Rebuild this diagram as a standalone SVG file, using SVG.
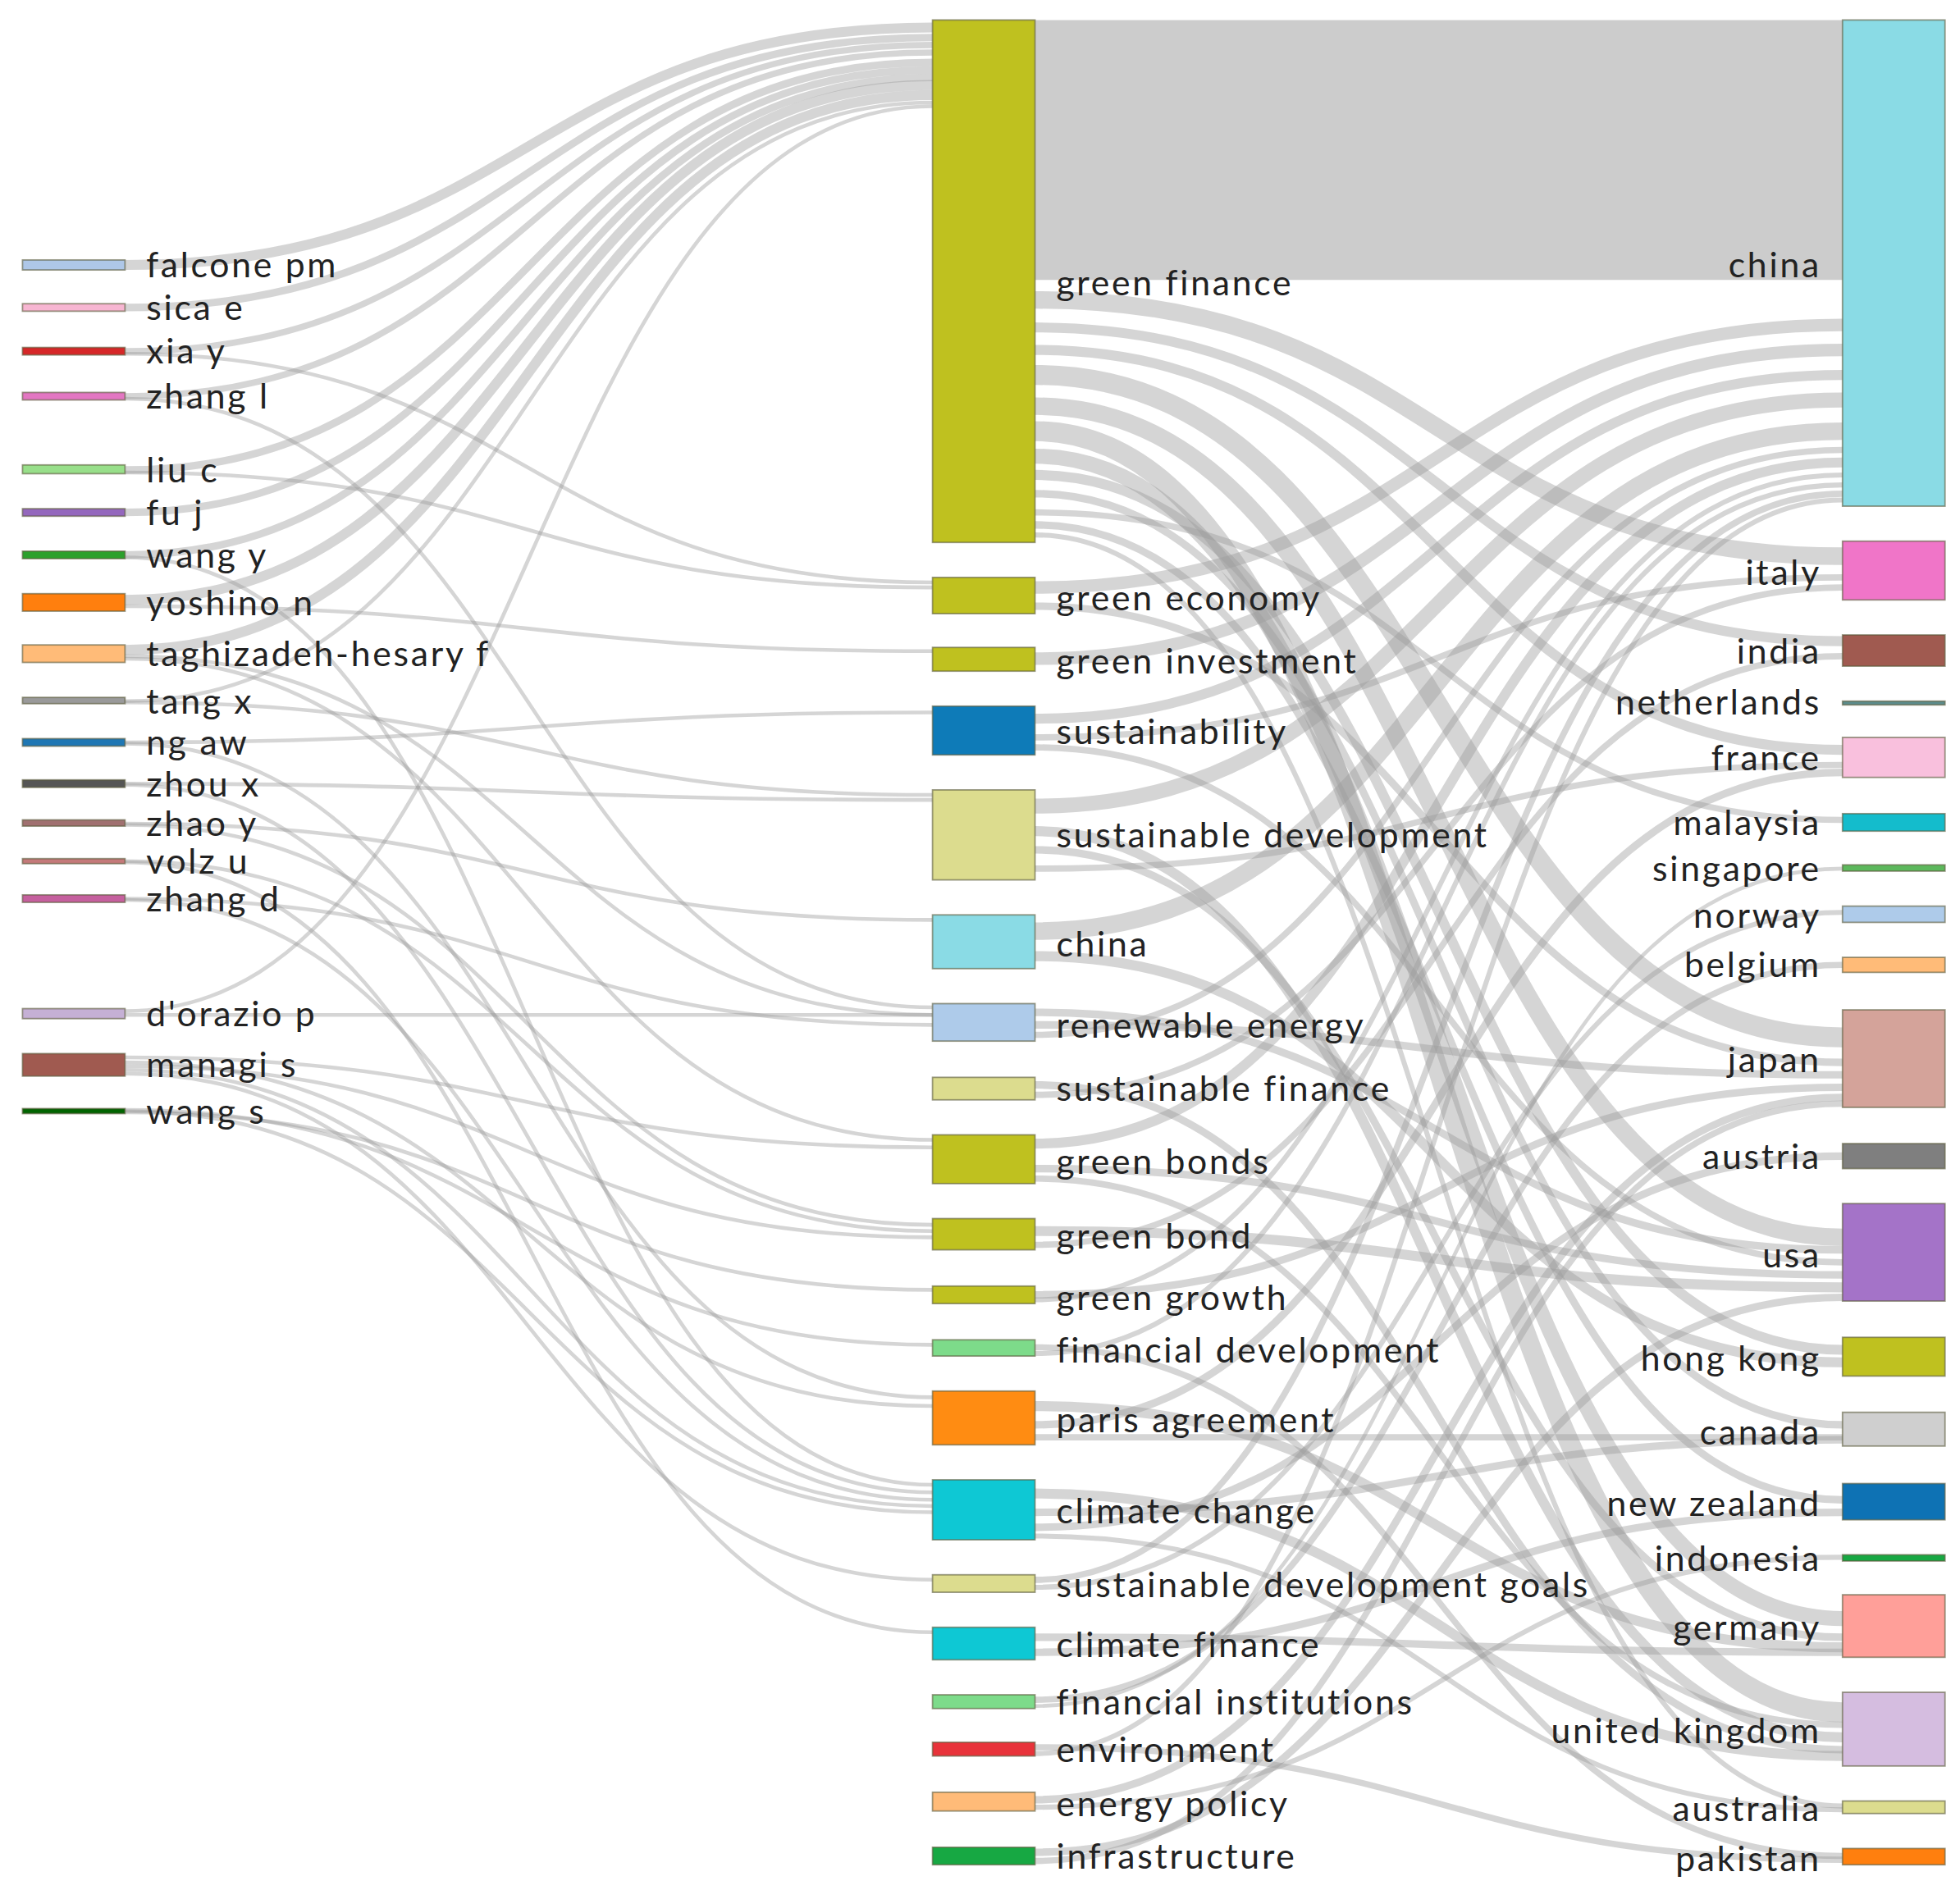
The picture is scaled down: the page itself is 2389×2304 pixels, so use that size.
<svg xmlns="http://www.w3.org/2000/svg" width="2389" height="2304" viewBox="0 0 2389 2304">
<style>
.l{fill:none;stroke:#9a9a9a;stroke-opacity:.42}
.n{stroke:#5a5a3a;stroke-width:1.2;stroke-opacity:.6}
text{font-family:Lato,"Liberation Sans",sans-serif;font-size:28px;letter-spacing:1.8px;fill:#222}
.r{text-anchor:end}
</style>
<rect width="2389" height="2304" fill="#fff"/>
<g transform="scale(1.5236)">
<g id="links">
<path d="M828 16 L1474 16 L1474 224 L828 224 Z" fill="#9a9a9a" fill-opacity=".5"/>
<path class="l" stroke-width="8" d="M100 212 C423 212 423 22 746 22"/>
<path class="l" stroke-width="6" d="M100 246 C423 246 423 30 746 30"/>
<path class="l" stroke-width="5" d="M100 281 C423 281 423 36 746 36"/>
<path class="l" stroke-width="3" d="M100 283 C423 283 423 466 746 466"/>
<path class="l" stroke-width="5" d="M100 317 C423 317 423 42 746 42"/>
<path class="l" stroke-width="3" d="M100 319 C423 319 423 806 746 806"/>
<path class="l" stroke-width="6" d="M100 376 C423 376 423 50 746 50"/>
<path class="l" stroke-width="3" d="M100 378 C423 378 423 470 746 470"/>
<path class="l" stroke-width="6" d="M100 410 C423 410 423 56 746 56"/>
<path class="l" stroke-width="6" d="M100 444 C423 444 423 62 746 62"/>
<path class="l" stroke-width="3" d="M100 446 C423 446 423 1188 746 1188"/>
<path class="l" stroke-width="8" d="M100 480 C423 480 423 68 746 68"/>
<path class="l" stroke-width="3" d="M100 485 C423 485 423 521 746 521"/>
<path class="l" stroke-width="8" d="M100 520 C423 520 423 76 746 76"/>
<path class="l" stroke-width="3" d="M100 525 C423 525 423 812 746 812"/>
<path class="l" stroke-width="3" d="M100 527 C423 527 423 912 746 912"/>
<path class="l" stroke-width="3" d="M100 561 C423 561 423 82 746 82"/>
<path class="l" stroke-width="3" d="M100 562 C423 562 423 636 746 636"/>
<path class="l" stroke-width="3" d="M100 594 C423 594 423 570 746 570"/>
<path class="l" stroke-width="3" d="M100 595 C423 595 423 1118 746 1118"/>
<path class="l" stroke-width="3" d="M100 627 C423 627 423 640 746 640"/>
<path class="l" stroke-width="3" d="M100 628 C423 628 423 1194 746 1194"/>
<path class="l" stroke-width="3" d="M100 659 C423 659 423 736 746 736"/>
<path class="l" stroke-width="3" d="M100 660 C423 660 423 980 746 980"/>
<path class="l" stroke-width="3" d="M100 689 C423 689 423 985 746 985"/>
<path class="l" stroke-width="3" d="M100 690 C423 690 423 1306 746 1306"/>
<path class="l" stroke-width="3" d="M100 719 C423 719 423 820 746 820"/>
<path class="l" stroke-width="3" d="M100 720 C423 720 423 1200 746 1200"/>
<path class="l" stroke-width="3" d="M100 809 C423 809 423 85 746 85"/>
<path class="l" stroke-width="3" d="M100 812 C423 812 423 812 746 812"/>
<path class="l" stroke-width="3" d="M100 846 C423 846 423 918 746 918"/>
<path class="l" stroke-width="3" d="M100 850 C423 850 423 1125 746 1125"/>
<path class="l" stroke-width="3" d="M100 853 C423 853 423 990 746 990"/>
<path class="l" stroke-width="3" d="M100 856 C423 856 423 1205 746 1205"/>
<path class="l" stroke-width="3" d="M100 859 C423 859 423 1264 746 1264"/>
<path class="l" stroke-width="3" d="M100 888 C423 888 423 1076 746 1076"/>
<path class="l" stroke-width="3" d="M100 889 C423 889 423 1210 746 1210"/>
<path class="l" stroke-width="3" d="M100 890 C423 890 423 1032 746 1032"/>
<path class="l" stroke-width="14" d="M828 240 C1151 240 1151 445 1474 445"/>
<path class="l" stroke-width="8" d="M828 262 C1151 262 1151 513 1474 513"/>
<path class="l" stroke-width="8" d="M828 280 C1151 280 1151 600 1474 600"/>
<path class="l" stroke-width="16" d="M828 300 C1151 300 1151 830 1474 830"/>
<path class="l" stroke-width="14" d="M828 325 C1151 325 1151 990 1474 990"/>
<path class="l" stroke-width="16" d="M828 345 C1151 345 1151 1370 1474 1370"/>
<path class="l" stroke-width="12" d="M828 365 C1151 365 1151 1295 1474 1295"/>
<path class="l" stroke-width="8" d="M828 380 C1151 380 1151 1080 1474 1080"/>
<path class="l" stroke-width="6" d="M828 395 C1151 395 1151 1140 1474 1140"/>
<path class="l" stroke-width="5" d="M828 410 C1151 410 1151 656 1474 656"/>
<path class="l" stroke-width="6" d="M828 420 C1151 420 1151 1200 1474 1200"/>
<path class="l" stroke-width="4" d="M828 428 C1151 428 1151 1445 1474 1445"/>
<path class="l" stroke-width="10" d="M828 470 C1151 470 1151 260 1474 260"/>
<path class="l" stroke-width="6" d="M828 485 C1151 485 1151 850 1474 850"/>
<path class="l" stroke-width="10" d="M828 527 C1151 527 1151 280 1474 280"/>
<path class="l" stroke-width="8" d="M828 575 C1151 575 1151 300 1474 300"/>
<path class="l" stroke-width="5" d="M828 590 C1151 590 1151 462 1474 462"/>
<path class="l" stroke-width="5" d="M828 598 C1151 598 1151 1010 1474 1010"/>
<path class="l" stroke-width="12" d="M828 645 C1151 645 1151 320 1474 320"/>
<path class="l" stroke-width="8" d="M828 665 C1151 665 1151 1390 1474 1390"/>
<path class="l" stroke-width="6" d="M828 680 C1151 680 1151 1310 1474 1310"/>
<path class="l" stroke-width="5" d="M828 695 C1151 695 1151 612 1474 612"/>
<path class="l" stroke-width="14" d="M828 745 C1151 745 1151 345 1474 345"/>
<path class="l" stroke-width="8" d="M828 765 C1151 765 1151 1090 1474 1090"/>
<path class="l" stroke-width="6" d="M828 810 C1151 810 1151 1000 1474 1000"/>
<path class="l" stroke-width="6" d="M828 820 C1151 820 1151 860 1474 860"/>
<path class="l" stroke-width="5" d="M828 828 C1151 828 1151 360 1474 360"/>
<path class="l" stroke-width="6" d="M828 868 C1151 868 1151 1400 1474 1400"/>
<path class="l" stroke-width="5" d="M828 876 C1151 876 1151 470 1474 470"/>
<path class="l" stroke-width="8" d="M828 915 C1151 915 1151 370 1474 370"/>
<path class="l" stroke-width="6" d="M828 935 C1151 935 1151 1020 1474 1020"/>
<path class="l" stroke-width="5" d="M828 943 C1151 943 1151 1380 1474 1380"/>
<path class="l" stroke-width="8" d="M828 985 C1151 985 1151 1030 1474 1030"/>
<path class="l" stroke-width="5" d="M828 996 C1151 996 1151 525 1474 525"/>
<path class="l" stroke-width="6" d="M828 1036 C1151 1036 1151 870 1474 870"/>
<path class="l" stroke-width="4" d="M828 1040 C1151 1040 1151 380 1474 380"/>
<path class="l" stroke-width="5" d="M828 1078 C1151 1078 1151 1485 1474 1485"/>
<path class="l" stroke-width="4" d="M828 1083 C1151 1083 1151 388 1474 388"/>
<path class="l" stroke-width="8" d="M828 1125 C1151 1125 1151 1318 1474 1318"/>
<path class="l" stroke-width="6" d="M828 1140 C1151 1140 1151 618 1474 618"/>
<path class="l" stroke-width="5" d="M828 1150 C1151 1150 1151 1150 1474 1150"/>
<path class="l" stroke-width="8" d="M828 1195 C1151 1195 1151 1405 1474 1405"/>
<path class="l" stroke-width="6" d="M828 1210 C1151 1210 1151 1152 1474 1152"/>
<path class="l" stroke-width="6" d="M828 1222 C1151 1222 1151 925 1474 925"/>
<path class="l" stroke-width="4" d="M828 1229 C1151 1229 1151 1448 1474 1448"/>
<path class="l" stroke-width="5" d="M828 1264 C1151 1264 1151 395 1474 395"/>
<path class="l" stroke-width="4" d="M828 1270 C1151 1270 1151 730 1474 730"/>
<path class="l" stroke-width="6" d="M828 1310 C1151 1310 1151 1322 1474 1322"/>
<path class="l" stroke-width="6" d="M828 1322 C1151 1322 1151 1210 1474 1210"/>
<path class="l" stroke-width="5" d="M828 1360 C1151 1360 1151 772 1474 772"/>
<path class="l" stroke-width="3" d="M828 1365 C1151 1365 1151 695 1474 695"/>
<path class="l" stroke-width="5" d="M828 1398 C1151 1398 1151 1488 1474 1488"/>
<path class="l" stroke-width="4" d="M828 1403 C1151 1403 1151 400 1474 400"/>
<path class="l" stroke-width="6" d="M828 1440 C1151 1440 1151 878 1474 878"/>
<path class="l" stroke-width="4" d="M828 1446 C1151 1446 1151 1246 1474 1246"/>
<path class="l" stroke-width="6" d="M828 1482 C1151 1482 1151 1038 1474 1038"/>
<path class="l" stroke-width="5" d="M828 1489 C1151 1489 1151 883 1474 883"/>
</g>
<g id="left">
<g id="n-falcone"><rect class="n" x="18" y="208" width="82" height="8" fill="#aec7e8"/><text x="117" y="222">falcone pm</text></g>
<g id="n-sica"><rect class="n" x="18" y="243" width="82" height="6" fill="#f7b6d2"/><text x="117" y="256">sica e</text></g>
<g id="n-xia"><rect class="n" x="18" y="278" width="82" height="6" fill="#d62728"/><text x="117" y="291">xia y</text></g>
<g id="n-zhangl"><rect class="n" x="18" y="314" width="82" height="6" fill="#e377c2"/><text x="117" y="327">zhang l</text></g>
<g id="n-liuc"><rect class="n" x="18" y="372" width="82" height="7" fill="#98df8a"/><text x="117" y="386">liu c</text></g>
<g id="n-fuj"><rect class="n" x="18" y="407" width="82" height="6" fill="#9467bd"/><text x="117" y="420">fu j</text></g>
<g id="n-wangy"><rect class="n" x="18" y="441" width="82" height="6" fill="#2ca02c"/><text x="117" y="454">wang y</text></g>
<g id="n-yoshino"><rect class="n" x="18" y="475" width="82" height="14" fill="#ff7f0e"/><text x="117" y="492">yoshino n</text></g>
<g id="n-tagh"><rect class="n" x="18" y="516" width="82" height="14" fill="#ffbb78"/><text x="117" y="533">taghizadeh-hesary f</text></g>
<g id="n-tangx"><rect class="n" x="18" y="558" width="82" height="5" fill="#9a9a9a"/><text x="117" y="571">tang x</text></g>
<g id="n-ngaw"><rect class="n" x="18" y="591" width="82" height="6" fill="#1f77b4"/><text x="117" y="604">ng aw</text></g>
<g id="n-zhoux"><rect class="n" x="18" y="624" width="82" height="6" fill="#555"/><text x="117" y="637">zhou x</text></g>
<g id="n-zhaoy"><rect class="n" x="18" y="656" width="82" height="5" fill="#a07070"/><text x="117" y="669">zhao y</text></g>
<g id="n-volz"><rect class="n" x="18" y="687" width="82" height="4" fill="#c47a7a"/><text x="117" y="699">volz u</text></g>
<g id="n-zhangd"><rect class="n" x="18" y="716" width="82" height="6" fill="#c5609e"/><text x="117" y="729">zhang d</text></g>
<g id="n-dorazio"><rect class="n" x="18" y="807" width="82" height="8" fill="#c5b0d5"/><text x="117" y="821">d'orazio p</text></g>
<g id="n-managi"><rect class="n" x="18" y="843" width="82" height="18" fill="#a05a50"/><text x="117" y="862">managi s</text></g>
<g id="n-wangs"><rect class="n" x="18" y="887" width="82" height="4" fill="#006400"/><text x="117" y="899">wang s</text></g>
</g>
<g id="middle">
<g id="m-gf"><rect class="n" x="746" y="16" width="82" height="418" fill="#bfc11f"/><text x="845" y="236">green finance</text></g>
<g id="m-ge"><rect class="n" x="746" y="462" width="82" height="29" fill="#bfc11f"/><text x="845" y="488">green economy</text></g>
<g id="m-gi"><rect class="n" x="746" y="518" width="82" height="19" fill="#bfc11f"/><text x="845" y="539">green investment</text></g>
<g id="m-sus"><rect class="n" x="746" y="565" width="82" height="39" fill="#0e7bb8"/><text x="845" y="595">sustainability</text></g>
<g id="m-sd"><rect class="n" x="746" y="632" width="82" height="72" fill="#dcdc8e"/><text x="845" y="678">sustainable development</text></g>
<g id="m-china"><rect class="n" x="746" y="732" width="82" height="43" fill="#8adbe5"/><text x="845" y="765">china</text></g>
<g id="m-re"><rect class="n" x="746" y="803" width="82" height="30" fill="#aecbea"/><text x="845" y="830">renewable energy</text></g>
<g id="m-sf"><rect class="n" x="746" y="862" width="82" height="18" fill="#dcdc8e"/><text x="845" y="881">sustainable finance</text></g>
<g id="m-gbs"><rect class="n" x="746" y="908" width="82" height="39" fill="#bfc11f"/><text x="845" y="939">green bonds</text></g>
<g id="m-gb"><rect class="n" x="746" y="975" width="82" height="25" fill="#bfc11f"/><text x="845" y="999">green bond</text></g>
<g id="m-gg"><rect class="n" x="746" y="1029" width="82" height="14" fill="#bfc11f"/><text x="845" y="1048">green growth</text></g>
<g id="m-fd"><rect class="n" x="746" y="1072" width="82" height="13" fill="#7ddb8a"/><text x="845" y="1090">financial development</text></g>
<g id="m-pa"><rect class="n" x="746" y="1113" width="82" height="43" fill="#ff8c12"/><text x="845" y="1146">paris agreement</text></g>
<g id="m-cc"><rect class="n" x="746" y="1184" width="82" height="48" fill="#0ec8d4"/><text x="845" y="1219">climate change</text></g>
<g id="m-sdg"><rect class="n" x="746" y="1260" width="82" height="14" fill="#dcdc8e"/><text x="845" y="1278">sustainable development goals</text></g>
<g id="m-cf"><rect class="n" x="746" y="1302" width="82" height="26" fill="#0ec8d4"/><text x="845" y="1326">climate finance</text></g>
<g id="m-fi"><rect class="n" x="746" y="1356" width="82" height="11" fill="#7ddb8a"/><text x="845" y="1372">financial institutions</text></g>
<g id="m-env"><rect class="n" x="746" y="1394" width="82" height="11" fill="#e8333a"/><text x="845" y="1410">environment</text></g>
<g id="m-ep"><rect class="n" x="746" y="1434" width="82" height="15" fill="#ffbb78"/><text x="845" y="1453">energy policy</text></g>
<g id="m-inf"><rect class="n" x="746" y="1478" width="82" height="14" fill="#17a843"/><text x="845" y="1495">infrastructure</text></g>
</g>
<g id="right">
<g id="r-china"><rect class="n" x="1474" y="16" width="82" height="389" fill="#8adbe5"/><text class="r" x="1457" y="222">china</text></g>
<g id="r-italy"><rect class="n" x="1474" y="433" width="82" height="47" fill="#f075c8"/><text class="r" x="1457" y="468">italy</text></g>
<g id="r-india"><rect class="n" x="1474" y="508" width="82" height="25" fill="#a05a50"/><text class="r" x="1457" y="531">india</text></g>
<g id="r-nl"><rect class="n" x="1474" y="561" width="82" height="3" fill="#5c8c8c"/><text class="r" x="1457" y="572">netherlands</text></g>
<g id="r-fr"><rect class="n" x="1474" y="590" width="82" height="32" fill="#f9c0dd"/><text class="r" x="1457" y="616">france</text></g>
<g id="r-my"><rect class="n" x="1474" y="651" width="82" height="14" fill="#14bccc"/><text class="r" x="1457" y="668">malaysia</text></g>
<g id="r-sg"><rect class="n" x="1474" y="692" width="82" height="5" fill="#5cb85c"/><text class="r" x="1457" y="705">singapore</text></g>
<g id="r-no"><rect class="n" x="1474" y="725" width="82" height="13" fill="#aecbea"/><text class="r" x="1457" y="742">norway</text></g>
<g id="r-be"><rect class="n" x="1474" y="766" width="82" height="12" fill="#ffbb78"/><text class="r" x="1457" y="782">belgium</text></g>
<g id="r-jp"><rect class="n" x="1474" y="808" width="82" height="78" fill="#d4a39a"/><text class="r" x="1457" y="858">japan</text></g>
<g id="r-at"><rect class="n" x="1474" y="915" width="82" height="20" fill="#7f7f7f"/><text class="r" x="1457" y="935">austria</text></g>
<g id="r-us"><rect class="n" x="1474" y="963" width="82" height="78" fill="#a473c8"/><text class="r" x="1457" y="1014">usa</text></g>
<g id="r-hk"><rect class="n" x="1474" y="1070" width="82" height="31" fill="#bfc11f"/><text class="r" x="1457" y="1097">hong kong</text></g>
<g id="r-ca"><rect class="n" x="1474" y="1130" width="82" height="27" fill="#cfcfcf"/><text class="r" x="1457" y="1156">canada</text></g>
<g id="r-nz"><rect class="n" x="1474" y="1187" width="82" height="29" fill="#0e72b4"/><text class="r" x="1457" y="1213">new zealand</text></g>
<g id="r-id"><rect class="n" x="1474" y="1244" width="82" height="5" fill="#17a843"/><text class="r" x="1457" y="1257">indonesia</text></g>
<g id="r-de"><rect class="n" x="1474" y="1276" width="82" height="50" fill="#ff9f99"/><text class="r" x="1457" y="1312">germany</text></g>
<g id="r-uk"><rect class="n" x="1474" y="1354" width="82" height="59" fill="#d5bde0"/><text class="r" x="1457" y="1395">united kingdom</text></g>
<g id="r-au"><rect class="n" x="1474" y="1441" width="82" height="10" fill="#dcdc8e"/><text class="r" x="1457" y="1457">australia</text></g>
<g id="r-pk"><rect class="n" x="1474" y="1479" width="82" height="13" fill="#ff7f0e"/><text class="r" x="1457" y="1497">pakistan</text></g>
</g>
</g>
</svg>
